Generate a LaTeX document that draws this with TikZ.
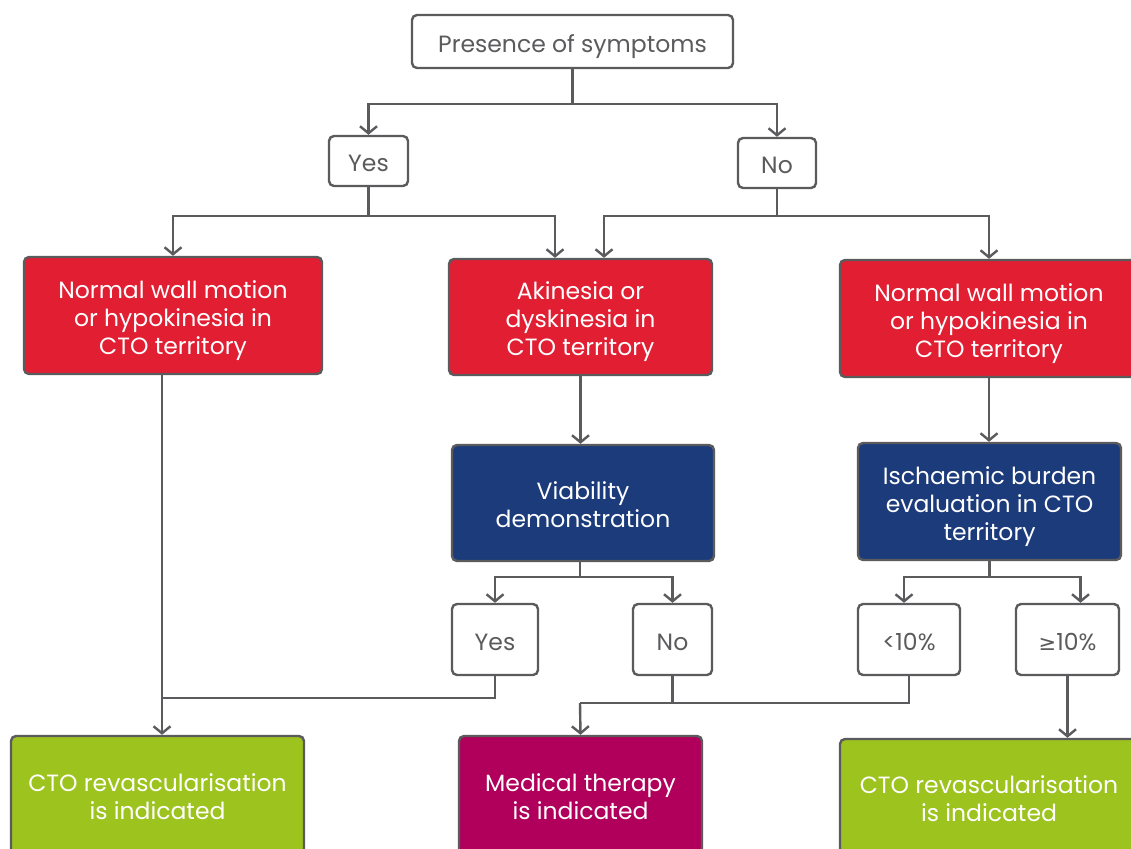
\documentclass[tikz,border=0pt]{standalone}
\usepackage{fontspec}
\setmainfont{Poppins}
\usetikzlibrary{arrows.meta}
\definecolor{lc}{HTML}{5B5B5D}
\definecolor{cred}{HTML}{E21E32}
\definecolor{cblue}{HTML}{1C3B7B}
\definecolor{cgreen}{HTML}{9DC31F}
\definecolor{cmag}{HTML}{B0005B}
\newfontfamily\symfont{DejaVu Sans}
\newcommand\boxtext[1]{\raisebox{-5pt}[\height][\depth]{\begin{tabular}{@{}c@{}}#1\end{tabular}}}
\begin{document}
\begin{tikzpicture}[x=1pt,y=-1pt,
  box/.style={draw=lc, line width=2.4pt, rounded corners=5pt, align=center, inner sep=0pt,
    font=\fontsize{23.5}{28}\selectfont},
  wbox/.style={box, fill=white, text=lc},
  rbox/.style={box, fill=cred, text=white},
  bbox/.style={box, fill=cblue, text=white},
  gbox/.style={box, fill=cgreen, text=white},
  mbox/.style={box, fill=cmag, text=white},
  ln/.style={draw=lc, line width=2.4pt},
  arr/.style={ln, -{Straight Barb[length=7pt,width=17pt,line width=2.4pt]}}]
\useasboundingbox (0,0) rectangle (1131,848);
\begin{scope}
\clip (0,0) rectangle (1131,848);
\node[wbox, minimum width=321pt, minimum height=53pt] (pres) at (572.5,41.5) {\boxtext{Presence of symptoms}};
\node[wbox, minimum width=79pt, minimum height=50pt] (yes1) at (368.5,161) {\boxtext{Yes}};
\node[wbox, minimum width=78pt, minimum height=50pt] (no1) at (777,163) {\boxtext{No}};
\node[rbox, minimum width=298pt, minimum height=117pt] (redL) at (173,315.5) {\boxtext{Normal wall motion\\or hypokinesia in\\CTO territory}};
\node[rbox, minimum width=263pt, minimum height=116pt] (redM) at (580.5,317) {\boxtext{Akinesia or\\dyskinesia in\\CTO territory}};
\node[rbox, minimum width=298pt, minimum height=117pt] (redR) at (989,318.5) {\boxtext{Normal wall motion\\or hypokinesia in\\CTO territory}};
\node[bbox, minimum width=262pt, minimum height=116pt] (blueM) at (583,503) {\boxtext{Viability\\demonstration}};
\node[bbox, minimum width=263pt, minimum height=117pt] (blueR) at (989.5,501.5) {\boxtext{Ischaemic burden\\evaluation in CTO\\territory}};
\node[wbox, minimum width=86pt, minimum height=71pt] (yes2) at (495,639.5) {\boxtext{Yes}};
\node[wbox, minimum width=79pt, minimum height=71pt] (no2) at (672.5,639.5) {\boxtext{No}};
\node[wbox, minimum width=102pt, minimum height=71pt] (lt) at (909,639.5) {\boxtext{<10\%}};
\node[wbox, minimum width=103pt, minimum height=71pt] (ge) at (1067.5,639.5) {\boxtext{{\symfont\fontsize{21}{28}\selectfont ≥}10\%}};
\node[gbox, minimum width=293pt, minimum height=118pt] (greenL) at (157.5,795) {\boxtext{CTO revascularisation\\is indicated}};
\node[mbox, minimum width=243pt, minimum height=118pt] (mag) at (580.5,795) {\boxtext{Medical therapy\\is indicated}};
\node[gbox, minimum width=298pt, minimum height=116pt] (greenR) at (989,797) {\boxtext{CTO revascularisation\\is indicated}};
% connectors
\coordinate (j1) at (572.5,104);
\draw[ln] (pres.south) -- (j1);
\draw[arr] (j1) -| (yes1.north);
\draw[arr] (j1) -| (no1.north);
\coordinate (j2) at (368.5,216);
\draw[ln] (yes1.south) -- (j2);
\draw[arr] (j2) -| (redL.north);
\draw[arr] (j2) -| ([xshift=-25.5pt]redM.north);
\coordinate (j3) at (777,216);
\draw[ln] (no1.south) -- (j3);
\draw[arr] (j3) -| ([xshift=23.5pt]redM.north);
\draw[arr] (j3) -| (redR.north);
\draw[arr] ([xshift=-11pt]redL.south) -- ([xshift=-11pt]redL.south |- greenL.north) coordinate (gLin);
\draw[ln] (yes2.south) |- (162,698);
\draw[arr] (redM.south) -- (redM.south |- blueM.north);
\coordinate (j4) at (580,577);
\draw[ln] (580,562) -- (j4);
\draw[arr] (j4) -| (yes2.north);
\draw[arr] (j4) -| (no2.north);
\draw[arr] (redR.south) -- (redR.south |- blueR.north);
\coordinate (j5) at (989.5,577);
\draw[ln] (blueR.south) -- (j5);
\draw[arr] (j5) -| ([xshift=-5pt]lt.north);
\draw[arr] (j5) -| ([xshift=13pt]ge.north);
\coordinate (j6) at (580,703);
\draw[ln] (lt.south) |- (j6);
\draw[ln] (no2.south) -- (no2.south |- j6);
\draw[arr] (j6) -- (mag.north);
\draw[arr] (ge.south) -- (ge.south |- greenR.north);
\end{scope}
\end{tikzpicture}
\end{document}
